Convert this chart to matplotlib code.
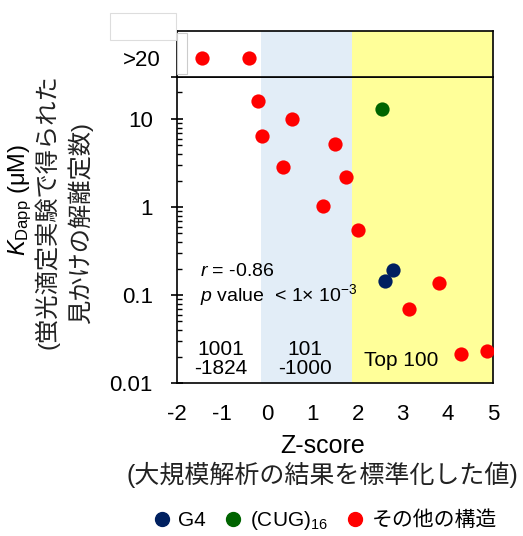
import matplotlib
matplotlib.use("Agg")
import matplotlib.pyplot as plt
from matplotlib.patches import Rectangle
import matplotlib.ticker as mticker

plt.rcParams['font.family'] = ['Liberation Sans', 'Noto Sans CJK JP']
plt.rcParams['mathtext.fontset'] = 'custom'
plt.rcParams['mathtext.rm'] = 'Liberation Sans'
plt.rcParams['mathtext.it'] = 'Liberation Sans:italic'

# ---- data ----
red_top_x = [-1.44, -0.40]          # K > 20 uM
red_x = [-0.21, 0.55, -0.11, 1.51, 0.34, 1.74, 1.24, 2.01, 3.81, 3.15, 4.30, 4.86]
red_y = [15.9, 10.1, 6.46, 5.2, 2.85, 2.21, 1.03, 0.548, 0.136, 0.0687, 0.0212, 0.0231]
g4_x = [2.79, 2.61]
g4_y = [0.192, 0.144]
cug_x = [2.55]
cug_y = [12.9]
xticks = [-2, -1, 0, 1, 2, 3, 4, 5]
yticks = [0.01, 0.1, 1, 10]
ytick_labels = ['0.01', '0.1', '1', '10']
band_blue = (-0.13, 1.87)
band_yellow = (1.87, 5.0)

RED = '#FF0000'
GREEN = '#006400'
NAVY = '#002060'
BLUE_BG = '#E2EDF7'
YEL_BG = '#FFFF99'

W, H = 523, 536
fig = plt.figure(figsize=(W / 100, H / 100), dpi=100)

def fx(px):
    return px / W

def fy(py):
    return 1 - py / H

ax = fig.add_axes([fx(177), fy(383), fx(493) - fx(177), fy(77) - fy(383)])
axt = fig.add_axes([fx(177), fy(77), fx(493) - fx(177), fy(31) - fy(77)])

for a in (ax, axt):
    a.set_xlim(-2, 5)
    a.axvspan(*band_blue, color=BLUE_BG, lw=0, zorder=0)
    a.axvspan(*band_yellow, color=YEL_BG, lw=0, zorder=0)
    for s in a.spines.values():
        s.set_linewidth(1.2)
        s.set_color('black')

ms = 105
# main panel
ax.set_yscale('log')
ax.set_ylim(0.01, 30)
ax.scatter(red_x, red_y, s=ms, color=RED, lw=0, zorder=3)
ax.scatter(cug_x, cug_y, s=ms, color=GREEN, lw=0, zorder=3)
ax.scatter(g4_x, g4_y, s=ms, color=NAVY, lw=0, zorder=3)

ax.set_xticks(xticks)
ax.set_xticklabels([str(v) for v in xticks])
ax.tick_params(axis='x', length=0, pad=15, labelsize=16)
ax.set_yticks(yticks + [30])
ax.set_yticklabels(ytick_labels + [''])
ax.yaxis.set_minor_locator(mticker.LogLocator(base=10, subs=range(2, 10)))
ax.yaxis.set_minor_formatter(mticker.NullFormatter())
ax.tick_params(axis='y', which='major', direction='inout', length=8.6, width=1.2,
               pad=13, labelsize=16)
ax.tick_params(axis='y', which='minor', direction='in', length=3.6, width=1.0)

# top panel (>20)
axt.set_ylim(0, 1)
axt.scatter(red_top_x, [0.41] * len(red_top_x), s=ms, color=RED, lw=0, zorder=3)
axt.set_xticks([])
axt.set_yticks([0.41])
axt.set_yticklabels(['>20'])
axt.tick_params(axis='y', length=0, pad=11.5, labelsize=16)

# annotations
ax.text(-1.49, 0.187, r'$\mathit{r}$ = -0.86', fontsize=14, ha='left', va='center')
ax.text(-1.49, 0.10, r'$\mathit{p}$ value  < 1$\times$ 10$^{-3}$', fontsize=14,
        ha='left', va='center')
ax.text(-1.04, 0.0187, '1001\n-1824', fontsize=15, ha='center', va='center',
        linespacing=1.0)
ax.text(0.84, 0.0187, '101\n-1000', fontsize=15, ha='center', va='center',
        linespacing=1.0)
ax.text(2.96, 0.0182, 'Top 100', fontsize=15, ha='center', va='center')

# axis labels
fig.text(fx(323), fy(446), 'Z-score', fontsize=18, ha='center', va='center')
fig.text(fx(322), fy(475), '(大規模解析の結果を標準化した値)', fontsize=18,
         ha='center', va='center', color='#222222')
fig.text(fx(20), fy(200), r'$\mathit{K}_{\mathrm{Dapp}}$ (μM)', fontsize=17,
         rotation=90, ha='center', va='center')
fig.text(fx(47), fy(212), '(蛍光滴定実験で得られた', fontsize=17.5, rotation=90,
         ha='center', va='center', color='#222222')
fig.text(fx(80), fy(223), '見かけの解離定数)', fontsize=17.5, rotation=90,
         ha='center', va='center', color='#222222')

# faint artifact boxes
fig.patches.append(Rectangle((fx(110), fy(40)), fx(176) - fx(110), fy(13) - fy(40),
                             transform=fig.transFigure, fill=False,
                             edgecolor='#DDDDDD', lw=0.8))
fig.patches.append(Rectangle((fx(177), fy(74)), fx(187) - fx(177), fy(33) - fy(74),
                             transform=fig.transFigure, fill=False,
                             edgecolor='#CCCCCC', lw=0.8, zorder=5))

# legend
h1 = plt.Line2D([], [], ls='', marker='o', ms=10, color=NAVY)
h2 = plt.Line2D([], [], ls='', marker='o', ms=10, color=GREEN)
h3 = plt.Line2D([], [], ls='', marker='o', ms=10, color=RED)
fig.legend([h1, h2, h3], ['G4', r'(CUG)$_{16}$', 'その他の構造'], loc='center',
           bbox_to_anchor=(fx(324), fy(521)), ncol=3, frameon=False, fontsize=15,
           handletextpad=0.3, columnspacing=0.8, handlelength=1.0)

fig.savefig('out.png', dpi=100)
